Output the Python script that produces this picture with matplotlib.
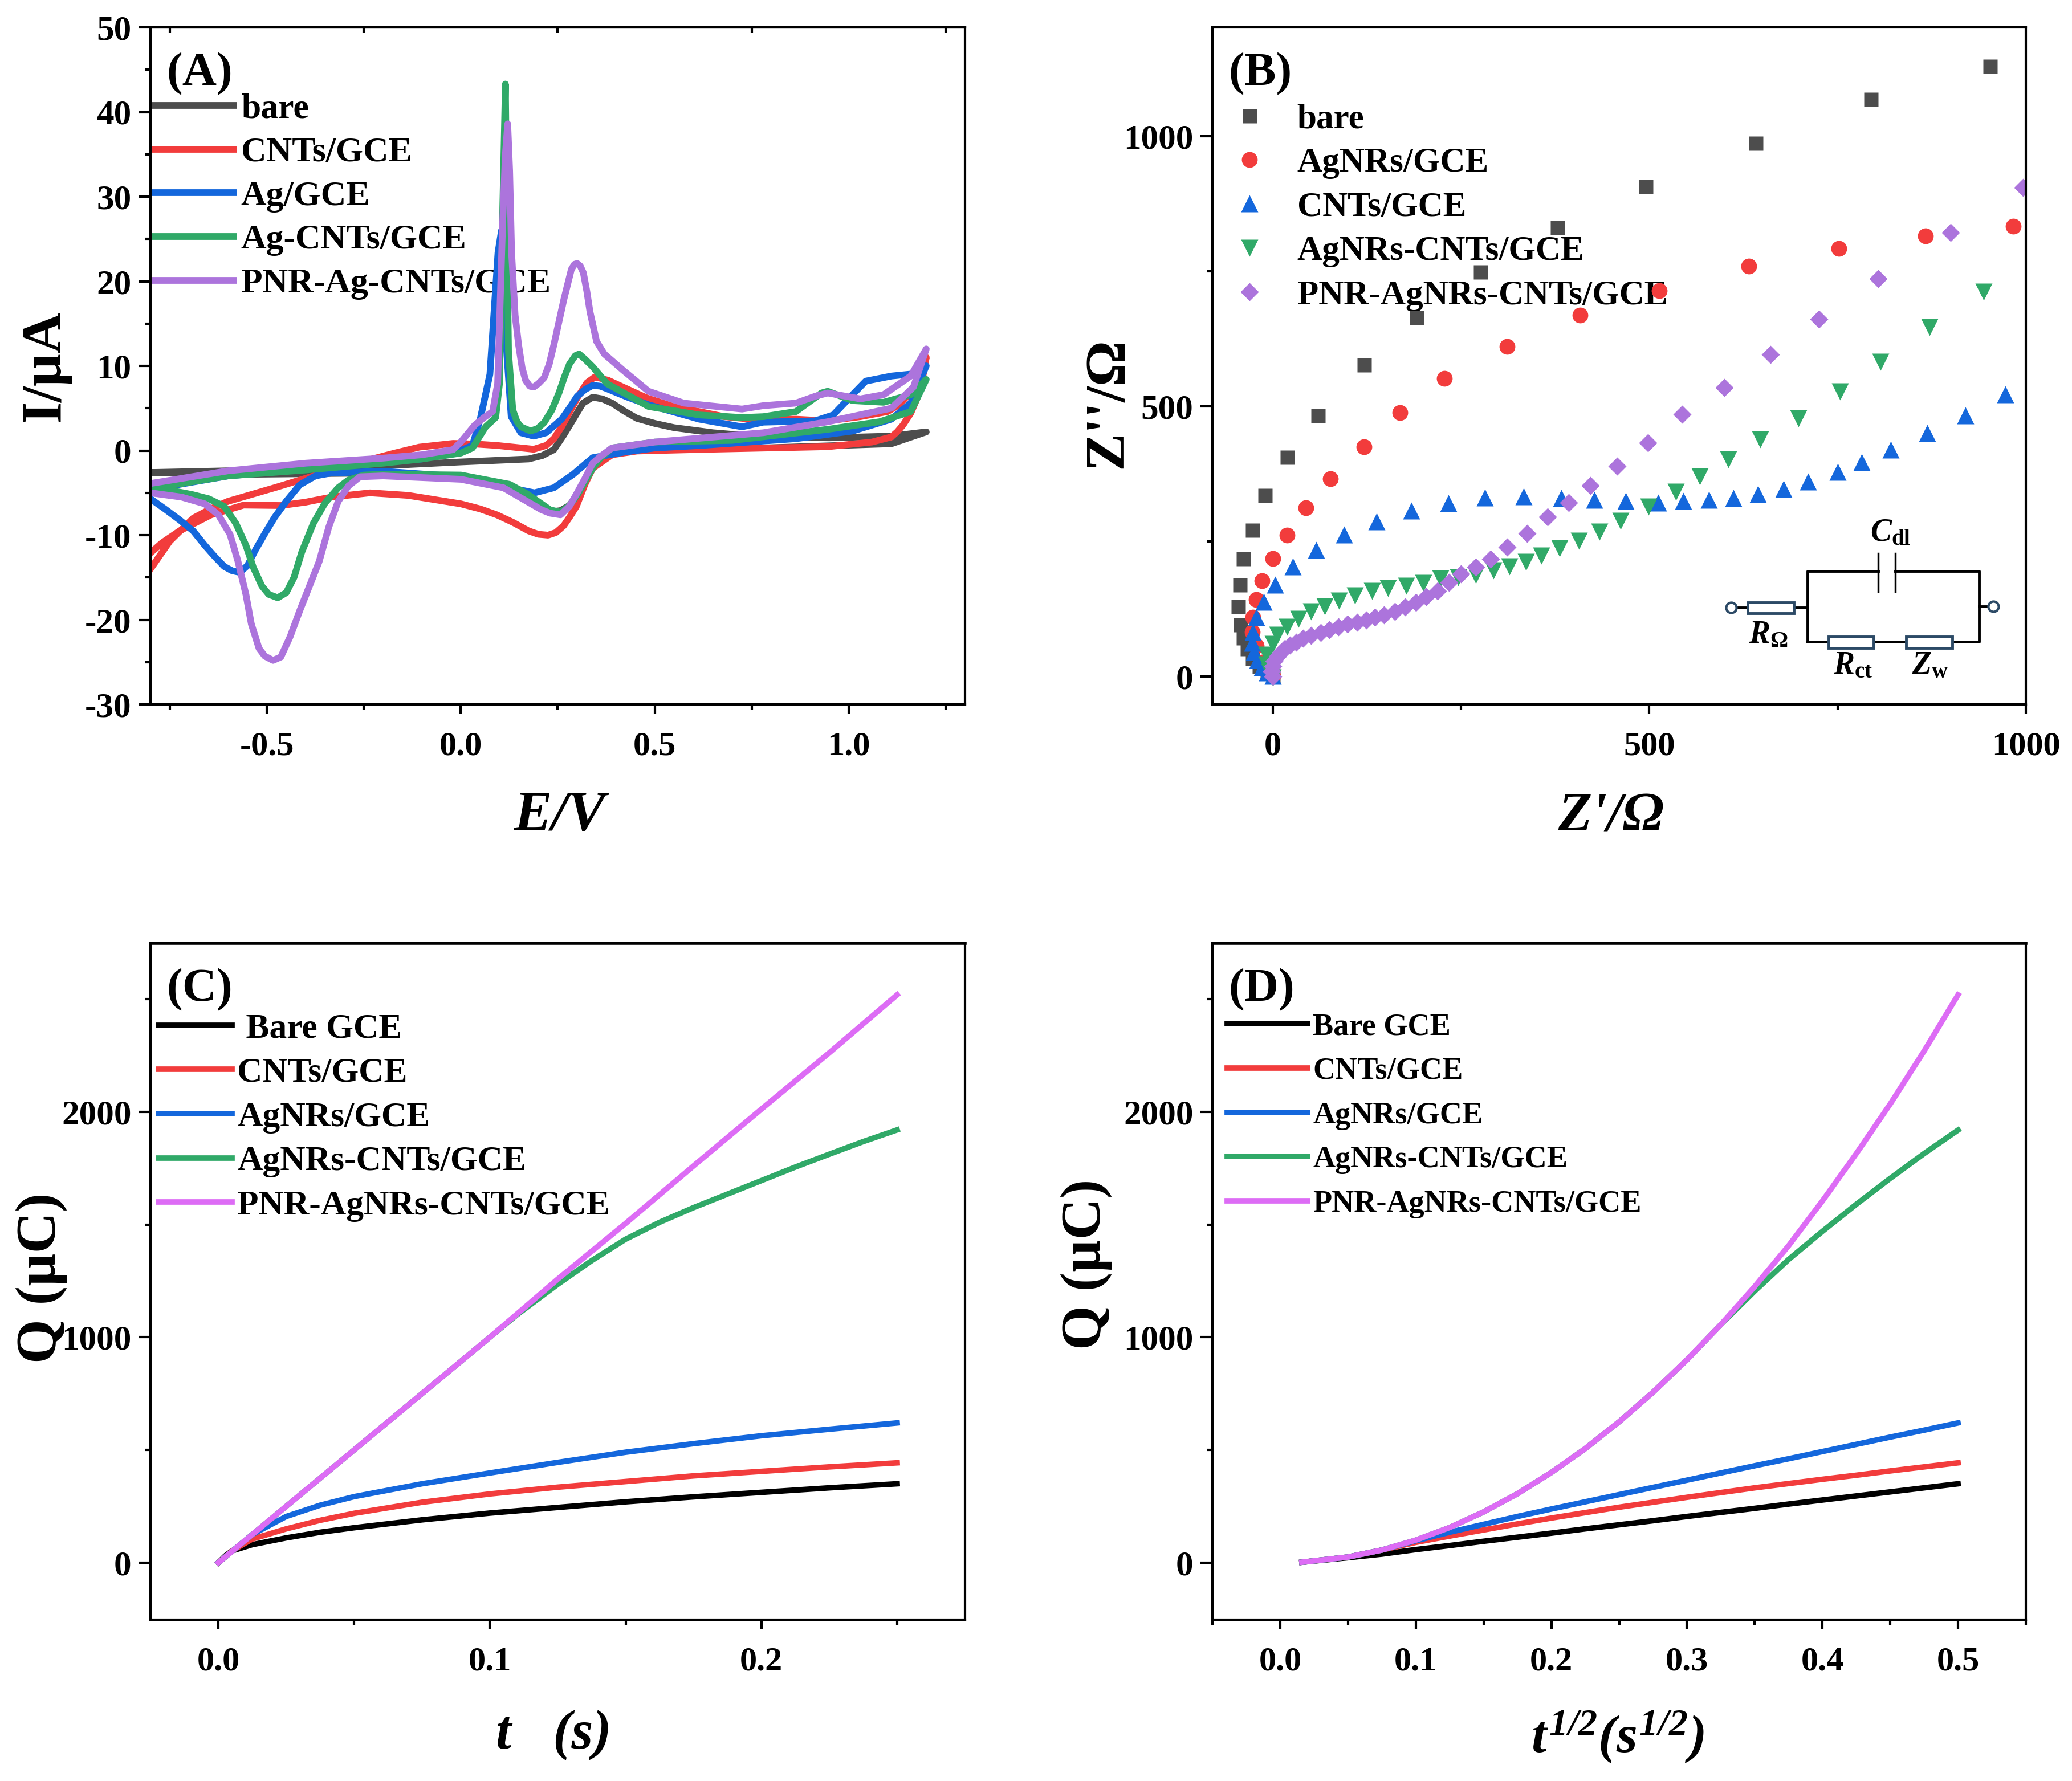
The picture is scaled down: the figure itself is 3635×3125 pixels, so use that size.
import matplotlib
matplotlib.use('Agg')
from matplotlib import pyplot as plt
from matplotlib.patches import Rectangle
from matplotlib.ticker import MultipleLocator

plt.rcParams['font.family'] = ['Liberation Serif', 'DejaVu Serif']
plt.rcParams['font.weight'] = 'bold'
plt.rcParams['axes.unicode_minus'] = False
plt.rcParams['mathtext.fontset'] = 'custom'
plt.rcParams['mathtext.rm'] = 'Liberation Serif:italic:bold'
plt.rcParams['mathtext.it'] = 'Liberation Serif:italic:bold'
plt.rcParams['mathtext.bf'] = 'Liberation Serif:bold'

W, H = 3635, 3125

DARK = '#4d4d4d'
RED = '#f23c3c'
BLUE = '#1467dc'
GREEN = '#30a968'
PURPLE = '#ac74dc'
PINK = '#dd6cf5'

# panel A, cyclic voltammograms: forward sweep then reverse sweep
bare_e = [-0.8, -0.5, -0.2, 0.0, 0.175, 0.21, 0.24, 0.265, 0.29, 0.315, 0.34, 0.365, 0.39, 0.42, 0.454, 0.5,
          0.55, 0.65, 0.78, 0.95, 1.11, 1.2,
          1.11, 0.78, 0.5, 0.39, 0.36, 0.34, 0.32, 0.3, 0.28, 0.257, 0.24, 0.225, 0.18, 0.126, 0.0, -0.2, -0.53, -0.8]
bare_i = [-2.6, -2.3, -1.8, -1.35, -1.0, -0.6, 0.1, 1.8, 3.7, 5.6, 6.3, 6.1, 5.6, 4.7, 3.8, 3.2,
          2.7, 2.1, 1.6, 1.5, 1.7, 2.2,
          0.8, 0.3, 0.3, 0.1, -0.8, -2.1, -3.7, -5.3, -6.5, -7.1, -7.2, -7.0, -5.8, -4.4, -3.3, -2.65, -2.8, -2.6]

cnt_e = [-0.8, -0.75, -0.69, -0.645, -0.6, -0.48, -0.365, -0.27, -0.17, -0.107, -0.02, 0.036, 0.093, 0.188, 0.22,
         0.24, 0.26, 0.28, 0.3, 0.325, 0.346, 0.38, 0.418, 0.48, 0.548, 0.68, 0.75, 0.864, 0.946, 1.03, 1.1, 1.13,
         1.16, 1.18, 1.2,
         1.19, 1.175, 1.16, 1.14, 1.125, 1.11, 1.06, 0.946, 0.62, 0.454, 0.39, 0.34, 0.32, 0.298, 0.28, 0.265, 0.245,
         0.225, 0.2, 0.175, 0.135, 0.093, 0.05, 0.0,
         -0.136, -0.234, -0.333, -0.4, -0.464, -0.56, -0.644, -0.725, -0.77, -0.8]
cnt_i = [-14.0, -10.7, -8.0, -6.9, -6.0, -4.4, -2.8, -1.5, -0.3, 0.4, 0.84, 0.77, 0.6, 0.15, 0.6,
         1.4, 2.8, 4.5, 6.2, 8.0, 8.7, 8.3, 7.5, 6.2, 5.2, 4.0, 3.7, 3.7, 3.5, 4.0, 4.6, 5.4,
         6.9, 8.6, 11.0,
         8.4, 6.0, 4.4, 3.0, 2.2, 1.6, 1.0, 0.45, 0.13, -0.06, -0.5, -2.1, -4.0, -6.6, -7.9, -8.9, -9.7,
         -10.0, -9.9, -9.5, -8.5, -7.6, -6.9, -6.3,
         -5.3, -5.0, -5.5, -6.1, -6.5, -6.45, -7.6, -9.5, -10.9, -12.1]

ag_e = [-0.8, -0.6, -0.4, -0.2, -0.1, 0.0, 0.03, 0.05, 0.075, 0.096, 0.105, 0.118, 0.13, 0.155, 0.188, 0.22, 0.26,
        0.28, 0.3, 0.32, 0.34, 0.36, 0.377, 0.43, 0.484, 0.615, 0.725, 0.78, 0.913, 0.96, 1.01, 1.044, 1.11, 1.175, 1.2,
        1.16, 1.11, 1.01, 0.864, 0.62, 0.5, 0.42, 0.34, 0.29, 0.24, 0.19, 0.126, 0.0, -0.2, -0.333, -0.375,
        -0.415, -0.45, -0.48, -0.505, -0.53, -0.55, -0.57, -0.59, -0.61, -0.635, -0.66, -0.69, -0.725, -0.76, -0.8]
ag_i = [-4.6, -3.0, -2.2, -1.4, -1.0, 0.0, 0.6, 3.7, 9.0, 23.4, 26.0, 12.0, 4.0, 2.1, 1.7, 2.1, 3.7,
        5.0, 6.4, 7.2, 7.7, 7.6, 7.3, 6.3, 5.4, 3.7, 2.8, 3.35, 3.5, 4.2, 6.6, 8.2, 8.8, 9.1, 10.0,
        5.6, 3.7, 2.3, 1.4, 0.6, 0.3, -0.2, -0.85, -2.8, -4.4, -5.0, -4.4, -3.1, -2.45, -2.65, -3.0,
        -4.05, -6.0, -7.9, -9.8, -11.8, -13.6, -14.4, -14.2, -13.7, -12.5, -11.2, -9.5, -8.2, -7.0, -5.7]

agcnt_e = [-0.8, -0.6, -0.4, -0.2, -0.1, 0.0, 0.03, 0.064, 0.09, 0.1, 0.108, 0.115, 0.119, 0.123, 0.134, 0.145, 0.155,
           0.18, 0.198, 0.215, 0.235, 0.253, 0.268, 0.28, 0.295, 0.305, 0.32, 0.34, 0.377, 0.484, 0.615, 0.725, 0.78,
           0.864, 0.93, 0.946, 1.01, 1.09, 1.16, 1.2,
           1.16, 1.08, 0.946, 0.7, 0.5, 0.39, 0.36, 0.34, 0.32, 0.3, 0.28, 0.257, 0.23, 0.208, 0.17, 0.126, 0.0, -0.2,
           -0.25, -0.29, -0.316, -0.35, -0.38, -0.41, -0.43, -0.45, -0.472, -0.495, -0.513, -0.535, -0.554, -0.58,
           -0.61, -0.65, -0.693, -0.75, -0.8]
agcnt_i = [-4.5, -3.0, -2.3, -1.5, -1.0, -0.3, 0.3, 2.8, 3.9, 8.0, 28.0, 43.3, 26.0, 11.7, 4.8, 3.4, 2.8,
           2.3, 2.6, 3.3, 4.8, 6.8, 8.8, 10.2, 11.2, 11.4, 10.8, 9.9, 7.9, 5.2, 4.2, 3.9, 4.0,
           4.6, 6.8, 7.0, 5.9, 5.7, 6.6, 8.4,
           4.6, 3.4, 2.5, 1.2, 1.0, 0.3, -0.9, -2.1, -3.7, -5.3, -6.5, -7.3, -7.0, -6.3, -5.1, -4.0, -2.9, -2.8,
           -2.9, -3.5, -4.4, -6.2, -8.6, -12.0, -15.0, -16.8, -17.4, -17.0, -16.0, -13.8, -11.2, -8.6,
           -6.6, -5.7, -5.2, -4.7, -4.4]

pnr_e = [-0.8, -0.6, -0.4, -0.2, -0.1, -0.02, 0.0, 0.036, 0.06, 0.082, 0.095, 0.108, 0.115, 0.121, 0.126, 0.131, 0.14,
         0.149, 0.158, 0.167, 0.178, 0.188, 0.2, 0.215, 0.228, 0.24, 0.253, 0.266, 0.285, 0.293, 0.3, 0.308, 0.316,
         0.325, 0.333, 0.35, 0.37, 0.418, 0.484, 0.575, 0.725, 0.78, 0.864,
         0.913, 0.946, 1.03, 1.09, 1.16, 1.2,
         1.167, 1.11, 0.946, 0.78, 0.5, 0.39, 0.36, 0.34, 0.32, 0.3, 0.28, 0.257, 0.23, 0.208, 0.11, 0.0, -0.2, -0.26,
         -0.29, -0.316, -0.34, -0.365, -0.39, -0.415, -0.44, -0.464, -0.484, -0.505, -0.52, -0.54, -0.554, -0.575,
         -0.595, -0.625, -0.66, -0.72, -0.8]
pnr_i = [-3.9, -2.4, -1.5, -0.9, -0.5, 0.1, 1.0, 3.0, 3.9, 4.6, 7.9, 27.0, 35.0, 38.6, 33.0, 23.4, 16.0,
         12.5, 9.8, 8.3, 7.6, 7.5, 7.9, 8.6, 10.2, 12.5, 15.2, 17.9, 21.4, 22.0, 22.1, 21.8, 21.0,
         18.8, 16.4, 12.9, 11.4, 9.5, 7.0, 5.6, 4.9, 5.3, 5.6,
         6.4, 6.8, 6.1, 6.6, 8.8, 12.0,
         7.5, 5.0, 3.4, 2.1, 1.0, 0.3, -0.7, -1.5, -3.3, -5.0, -6.6, -7.6, -7.4, -7.0, -4.4, -3.4, -3.0, -3.1,
         -4.2, -6.0, -9.0, -13.1, -16.0, -18.9, -22.0, -24.4, -24.8, -24.3, -23.4, -20.5, -17.0, -13.0,
         -9.9, -7.6, -6.3, -5.5, -5.0]

# panel B, Nyquist points
bare_zr = [952, 794, 641, 495, 378, 276, 191, 121, 60, 19, -10, -27, -39, -44, -46, -43, -39, -34, -27, -18, -7, 0]
bare_zi = [1130, 1069, 988, 908, 832, 749, 665, 577, 483, 406, 335, 271, 218, 170, 130, 96, 72, 51, 33, 19, 7, 1]

agnr_zr = [983, 867, 752, 632, 513, 408, 311, 228, 169, 121, 77, 44, 19, 0, -14, -22, -26, -27, -22, -14, -8, 0]
agnr_zi = [834, 816, 792, 760, 714, 669, 611, 552, 488, 425, 366, 312, 262, 218, 177, 142, 110, 82, 57, 26, 12, 1]

cnts_zr = [973, 920, 869, 821, 782, 750, 711, 678, 644, 612, 579, 545, 512, 469, 427, 383, 333, 282, 233, 184,
           138, 95, 58, 27, 3, -12, -22, -26, -27, -25, -20, -14, -7, 0]
cnts_zi = [522, 483, 450, 420, 397, 379, 361, 347, 337, 330, 327, 325, 322, 325, 327, 330, 333, 331, 321, 307,
           287, 263, 234, 203, 170, 138, 109, 82, 62, 45, 30, 17, 7, 1]

mix_zr = [944, 872, 807, 753, 698, 647, 605, 567, 535, 499, 462, 434, 407, 381, 357, 336, 314, 293, 270, 246,
          223, 200, 177, 153, 132, 109, 88, 69, 51, 34, 19, 6, 0, -8, -8, -4, 0]
mix_zi = [712, 647, 582, 528, 478, 439, 402, 370, 342, 314, 288, 268, 251, 237, 223, 212, 203, 196, 188, 183,
          181, 173, 168, 163, 158, 150, 140, 130, 120, 106, 92, 77, 60, 40, 22, 8, -2]

pnrz_zr = [996, 900, 804, 725, 661, 600, 544, 498, 457, 422, 393, 365, 338, 311, 289, 270, 250, 234, 219, 204,
           190, 176, 162, 148, 136, 124, 112, 99, 87, 75, 64, 51, 40, 31, 23, 16, 11, 6, 2, 0, -1, 0]
pnrz_zi = [905, 822, 737, 662, 596, 535, 485, 433, 389, 353, 322, 295, 265, 239, 217, 202, 190, 174, 158, 147,
           137, 128, 120, 114, 109, 104, 100, 97, 92, 86, 81, 76, 70, 63, 58, 51, 44, 37, 28, 19, 9, 0]

# panel C, charge against time
t_c = [0.0, 0.0025, 0.005, 0.0125, 0.025, 0.0375, 0.05, 0.075, 0.1, 0.125, 0.15, 0.175, 0.2, 0.225, 0.25]
q_bare_c = [0, 30, 52, 80, 110, 135, 155, 190, 220, 245, 270, 292, 312, 332, 350]
q_cnt_c = [0, 25, 52, 105, 150, 188, 219, 268, 305, 335, 360, 385, 405, 425, 443]
q_ag_c = [0, 25, 50, 125, 205, 255, 293, 350, 398, 445, 490, 528, 563, 592, 620]
q_pnr_c = [0, 25, 50, 125, 250, 375, 500, 750, 1000, 1258, 1505, 1760, 2012, 2262, 2519]
t_mix_c = [0.0, 0.025, 0.05, 0.075, 0.1, 0.11, 0.125, 0.1375, 0.15, 0.1625, 0.175, 0.1875, 0.2, 0.2125, 0.225,
           0.2375, 0.25]
q_mix_c = [0, 250, 500, 750, 1000, 1100, 1235, 1340, 1435, 1510, 1575, 1635, 1695, 1755, 1812, 1868, 1920]

# panel D, charge against root time
x_d = [0.016, 0.05, 0.075, 0.1, 0.125, 0.15, 0.175, 0.2, 0.225, 0.25, 0.275, 0.3, 0.325, 0.35, 0.375, 0.4,
       0.425, 0.45, 0.475, 0.5]
q_bare_d = [2, 22, 38, 58, 76, 95, 113, 131, 150, 168, 186, 205, 223, 241, 260, 278, 296, 314, 332, 350]
q_cnt_d = [2, 25, 56, 90, 118, 145, 172, 198, 222, 246, 268, 290, 311, 332, 351, 370, 388, 407, 425, 443]
q_ag_d = [2, 25, 56, 97, 135, 170, 205, 238, 270, 302, 334, 366, 398, 430, 461, 493, 525, 557, 588, 620]
q_mix_d = [2, 25, 56, 100, 156, 225, 306, 400, 506, 625, 756, 900, 1056, 1205, 1345, 1470, 1590, 1705, 1815, 1919]
q_pnr_d = [2, 25, 56, 100, 156, 225, 306, 400, 506, 625, 756, 900, 1056, 1225, 1406, 1605, 1815, 2035, 2270, 2519]

labels_a = ['bare', 'CNTs/GCE', 'Ag/GCE', 'Ag-CNTs/GCE', 'PNR-Ag-CNTs/GCE']
labels_b = ['bare', 'AgNRs/GCE', 'CNTs/GCE', 'AgNRs-CNTs/GCE', 'PNR-AgNRs-CNTs/GCE']
labels_c = [' Bare GCE', 'CNTs/GCE', 'AgNRs/GCE', 'AgNRs-CNTs/GCE', 'PNR-AgNRs-CNTs/GCE']
labels_d = ['Bare GCE', 'CNTs/GCE', 'AgNRs/GCE', 'AgNRs-CNTs/GCE', 'PNR-AgNRs-CNTs/GCE']


def make_axes(left, top, right, bottom):
    ax = fig.add_axes([left / W, 1 - bottom / H, (right - left) / W, (bottom - top) / H])
    for s in ax.spines.values():
        s.set_linewidth(3.0)
    return ax


def style_axes(ax, xmaj, xmin, ymaj, ymin):
    ax.xaxis.set_major_locator(MultipleLocator(xmaj))
    ax.xaxis.set_minor_locator(MultipleLocator(xmin))
    ax.yaxis.set_major_locator(MultipleLocator(ymaj))
    ax.yaxis.set_minor_locator(MultipleLocator(ymin))
    ax.tick_params(axis='x', which='major', length=12, width=3, labelsize=43.5, pad=22)
    ax.tick_params(axis='x', which='minor', length=7, width=3)
    ax.tick_params(axis='y', which='major', length=15, width=3, labelsize=44, pad=9)
    ax.tick_params(axis='y', which='minor', length=7, width=3)


def put_labels(ax, xlab, ylab, xpos, ypos, xsize=72, ysize=72, xstyle='italic'):
    ax.set_xlabel(xlab, fontsize=xsize, fontweight='bold', fontstyle=xstyle, va='center')
    ax.set_ylabel(ylab, fontsize=ysize, fontweight='bold', va='center')
    ax.xaxis.set_label_coords(*xpos)
    ax.yaxis.set_label_coords(*ypos)


def make_legend(ax, size, anchor, spacing, hlen, pad):
    leg = ax.legend(loc='upper left', bbox_to_anchor=anchor, frameon=False, fontsize=size, borderpad=0,
                    borderaxespad=0, labelspacing=spacing, handlelength=hlen, handletextpad=pad, numpoints=1)
    leg.set_zorder(1)
    return leg


fig = plt.figure(figsize=(W / 100, H / 100), dpi=100)

# (A)
ax = make_axes(264, 48, 1693, 1236)
ax.plot(bare_e, bare_i, color=DARK, lw=8.5, label=labels_a[0], solid_joinstyle='round', zorder=2)
ax.plot(cnt_e, cnt_i, color=RED, lw=8.5, label=labels_a[1], solid_joinstyle='round', zorder=2)
ax.plot(ag_e, ag_i, color=BLUE, lw=8.5, label=labels_a[2], solid_joinstyle='round', zorder=2)
ax.plot(agcnt_e, agcnt_i, color=GREEN, lw=8.5, label=labels_a[3], solid_joinstyle='round', zorder=2)
ax.plot(pnr_e, pnr_i, color=PURPLE, lw=8.5, label=labels_a[4], solid_joinstyle='round', zorder=2)
ax.set_xlim(-0.8, 1.3)
ax.set_ylim(-30, 50)
style_axes(ax, 0.5, 0.25, 10, 5)
ax.set_xticks([-0.5, 0.0, 0.5, 1.0])
# short inward marks along the top edge
top = ax.secondary_xaxis('top')
top.set_xticks([-0.75, -0.25, 0.25, 0.75, 1.25])
top.tick_params(direction='in', length=7, width=3, labeltop=False)
top.spines['top'].set_linewidth(3.0)
put_labels(ax, 'E/V', 'I/\u00b5A', (0.503, -0.165), (-0.129, 0.500))
make_legend(ax, 44.5, (0.003, 0.903), 0.33, 2.3, 0.2)
ax.text(0.02, 0.931, '(A)', transform=ax.transAxes, fontsize=60, va='center')

# (B)
ax = make_axes(2127, 48, 3554, 1236)
ax.plot(bare_zr, bare_zi, 's', color=DARK, ms=18, mec='none', label=labels_b[0], zorder=2)
ax.plot(agnr_zr, agnr_zi, 'o', color=RED, ms=20, mec='none', label=labels_b[1], zorder=2)
ax.plot(cnts_zr, cnts_zi, '^', color=BLUE, ms=22, mec='none', label=labels_b[2], zorder=2)
ax.plot(mix_zr, mix_zi, 'v', color=GREEN, ms=22, mec='none', label=labels_b[3], zorder=2)
ax.plot(pnrz_zr, pnrz_zi, 'D', color=PURPLE, ms=16, mec='none', label=labels_b[4], zorder=2)
ax.set_xlim(-80, 1000)
ax.set_ylim(-52, 1202)
style_axes(ax, 500, 250, 500, 250)
put_labels(ax, "Z'/\u03a9", "Z''/\u03a9", (0.49, -0.167), (-0.128, 0.445), xsize=70, ysize=72)
make_legend(ax, 44, (0.003, 0.888), 0.35, 2.0, 0.36)
ax.text(0.02, 0.931, '(B)', transform=ax.transAxes, fontsize=60, va='center')

# equivalent circuit inset, in the panel's data units
ax.plot([710, 710, 804], [64, 195, 195], color='black', lw=3.5, zorder=3)
ax.plot([827, 938, 938, 710], [195, 195, 64, 64], color='black', lw=3.5, zorder=3)
ax.plot([804, 804], [157, 228], color='black', lw=2.5, zorder=3)
ax.plot([827, 827], [157, 228], color='black', lw=2.5, zorder=3)
ax.plot([609, 710], [127, 127], color='black', lw=3.5, zorder=3)
ax.plot([938, 957], [130, 130], color='black', lw=3.5, zorder=3)
for x0, y0, x1, y1 in [(631, 117, 692, 137), (738, 53, 798, 74), (841, 53, 902, 74)]:
    ax.add_patch(Rectangle((x0, y0), x1 - x0, y1 - y0, fc='white', ec='#2c4a66', lw=3.5, zorder=4))
ax.plot([609, 957], [127, 130], 'o', ms=13, mfc='white', mec='#2c4a66', mew=3, zorder=4)
ax.text(658, 77, r'$R_{\mathbf{\Omega}}$', fontsize=40, ha='center', va='center', zorder=4)
ax.text(770, 20, r'$R_{\mathbf{ct}}$', fontsize=40, ha='center', va='center', zorder=4)
ax.text(873, 20, r'$Z_{\mathbf{w}}$', fontsize=40, ha='center', va='center', zorder=4)
ax.text(820, 265, r'$C_{\mathbf{dl}}$', fontsize=40, ha='center', va='center', zorder=4)

# (C)
ax = make_axes(264, 1655, 1693, 2842)
ax.plot(t_c, q_bare_c, color='black', lw=7, label=labels_c[0], zorder=2)
ax.plot(t_c, q_cnt_c, color=RED, lw=7, label=labels_c[1], zorder=2)
ax.plot(t_c, q_ag_c, color=BLUE, lw=7, label=labels_c[2], zorder=2)
ax.plot(t_mix_c, q_mix_c, color=GREEN, lw=7, label=labels_c[3], zorder=2)
ax.plot(t_c, q_pnr_c, color=PINK, lw=7, label=labels_c[4], zorder=2)
ax.set_xlim(-0.025, 0.275)
ax.set_ylim(-253, 2748)
style_axes(ax, 0.1, 0.05, 1000, 500)
ax.spines['top'].set_linewidth(4.0)
put_labels(ax, 't   (s)', 'Q (\u00b5C)', (0.495, -0.171), (-0.134, 0.505), xsize=70, ysize=72)
make_legend(ax, 44.3, (0.010, 0.897), 0.35, 2.1, 0.14)
ax.text(0.02, 0.931, '(C)', transform=ax.transAxes, fontsize=60, va='center')

# (D)
ax = make_axes(2127, 1655, 3554, 2842)
ax.plot(x_d, q_bare_d, color='black', lw=7, label=labels_d[0], zorder=2)
ax.plot(x_d, q_cnt_d, color=RED, lw=7, label=labels_d[1], zorder=2)
ax.plot(x_d, q_ag_d, color=BLUE, lw=7, label=labels_d[2], zorder=2)
ax.plot(x_d, q_mix_d, color=GREEN, lw=7, label=labels_d[3], zorder=2)
ax.plot(x_d, q_pnr_d, color=PINK, lw=7, label=labels_d[4], zorder=2)
ax.set_xlim(-0.05, 0.55)
ax.set_ylim(-253, 2748)
style_axes(ax, 0.1, 0.05, 1000, 500)
ax.spines['top'].set_linewidth(4.0)
put_labels(ax, r'$t^{1/2}(s^{1/2})$', 'Q (\u00b5C)', (0.498, -0.174), (-0.155, 0.525), xsize=68, ysize=72)
make_legend(ax, 39.1, (0.018, 0.897), 0.51, 2.6, 0.17)
ax.text(0.02, 0.931, '(D)', transform=ax.transAxes, fontsize=60, va='center')

fig.savefig('out.png', dpi=100, facecolor='white')
